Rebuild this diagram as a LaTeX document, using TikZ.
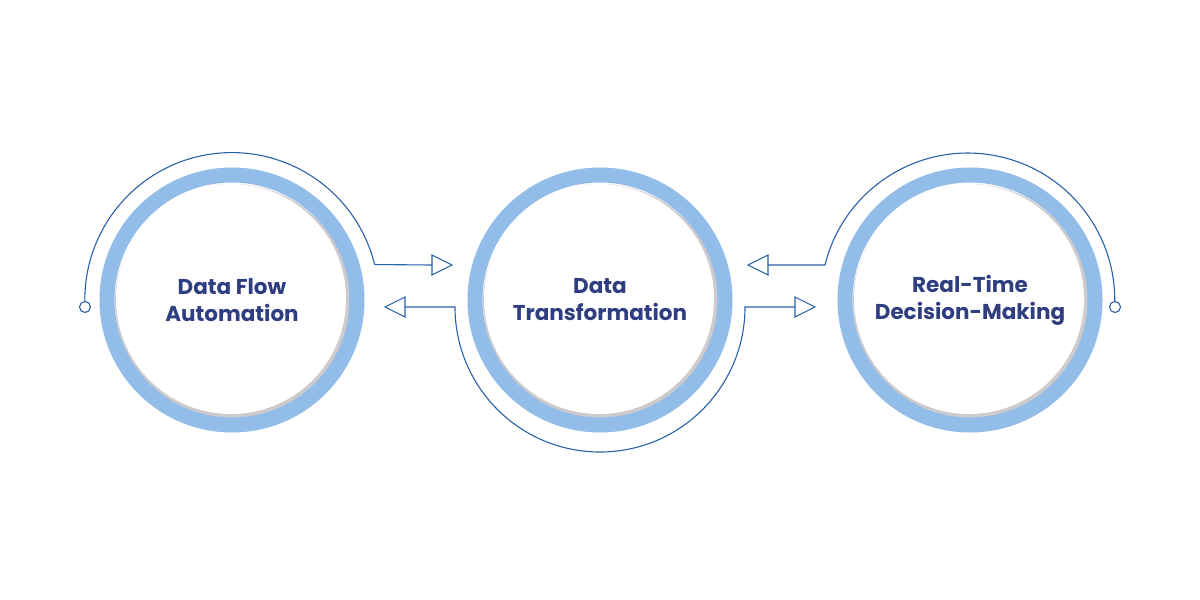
\documentclass[tikz,border=0pt]{standalone}
\usepackage{fontspec}
\setmainfont{Poppins}
\begin{document}
\begin{tikzpicture}[x=1pt,y=-1pt]
\definecolor{ring}{HTML}{92BDE8}
\definecolor{thin}{HTML}{2A62A8}
\definecolor{txt}{HTML}{2F3E80}
\definecolor{shad}{HTML}{CFCACB}
\tikzset{thinline/.style={draw=thin,line width=1.1pt},
 lbl/.style={text=txt,font=\fontsize{21.5}{27}\selectfont\bfseries,align=center}}
\useasboundingbox[fill=white] (0,0) rectangle (1200,600);
\foreach \cx/\n in {232/a,600/b,970/c}{
  \fill[shad] (\cx+1,302) circle (118);
  \fill[white] (\cx-1,299) circle (115);
  \draw[ring,line width=15pt] (\cx,300) circle (125);
  \coordinate (\n) at (\cx,300);
}
\node[lbl] (ta) at (a) {Data Flow\\Automation};
\node[lbl] (tb) at (b) {Data\\Transformation};
\node[lbl] (tc) at (c) {Real-Time\\Decision-Making};
% left arc
\draw[thinline] (85,306) arc (177.5:346.2:147) coordinate (a2);
\draw[thinline,fill=white] (85,307) circle (5.5);
\draw[thinline] (a2) -- (432,265) coordinate (ar1);
\draw[thinline] (ar1) -- ++(0,-10) -- ++(20,10) -- ++(-20,10) -- cycle;
% middle arc
\draw[thinline] (405,307) -- (455,307) arc (180:0:145) -- (795,307) coordinate (br);
\draw[thinline] (br) -- ++(0,-10) -- ++(20,10) -- ++(-20,10) -- cycle;
\draw[thinline] (405,307) -- ++(0,-10) -- ++(-20,10) -- ++(20,10) -- cycle;
% right arc
\draw[thinline] (768,265) -- (825,265) arc (193.8:362.5:147) coordinate (c2);
\draw[thinline] (768,265) -- ++(0,-10) -- ++(-20,10) -- ++(20,10) -- cycle;
\draw[thinline,fill=white] (1115,307) circle (5.5);
\end{tikzpicture}
\end{document}
